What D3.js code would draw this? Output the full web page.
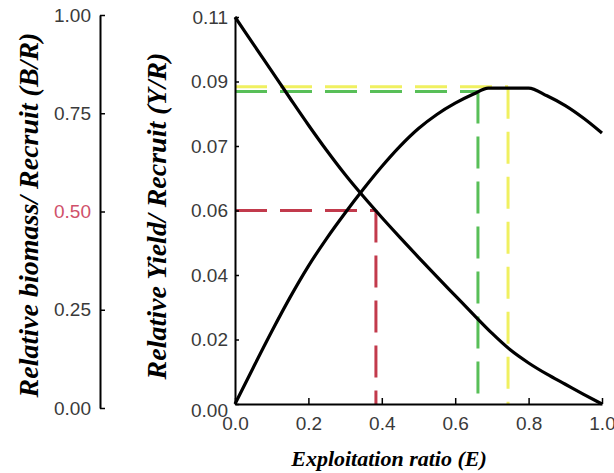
<!DOCTYPE html>
<html>
<head>
<meta charset="utf-8">
<script src="https://cdn.jsdelivr.net/npm/d3@7"></script>
<style>
  html, body { margin: 0; padding: 0; background: #fff; }
  svg { display: block; }
  .tick text { font-family: "Liberation Sans", Arial, sans-serif; font-size: 19px; fill: #3a3a3a; }
  .title { font-family: "Liberation Serif", "Times New Roman", serif; font-weight: bold; font-style: italic; fill: #000; }
</style>
</head>
<body>
<svg id="chart" width="614" height="473"></svg>
<script>
// Exploitation ratio (E) sample points for the yield curve
const exploitation = [0, 0.05, 0.10, 0.15, 0.20, 0.25, 0.30, 0.35, 0.40, 0.45, 0.50,
                      0.55, 0.60, 0.65, 0.69, 0.80, 0.85, 0.90, 0.95, 1.00];
// Relative yield per recruit (Y/R)
const yieldPerRecruit = [0, 0.0104, 0.0206, 0.0303, 0.0392, 0.0471, 0.0543, 0.0611, 0.0675, 0.0733, 0.0783,
                         0.0823, 0.0855, 0.0881, 0.0898, 0.0898, 0.0876, 0.0848, 0.0812, 0.0770];
// Relative biomass per recruit (B/R)
const biomassE = [0, 0.05, 0.10, 0.15, 0.20, 0.25, 0.30, 0.35, 0.40, 0.45, 0.50,
                  0.55, 0.60, 0.65, 0.70, 0.75, 0.80, 0.85, 0.90, 0.95, 1.00];
const biomassPerRecruit = [1.000, 0.930, 0.860, 0.790, 0.721, 0.655, 0.593, 0.536, 0.482, 0.430, 0.379,
                           0.329, 0.280, 0.231, 0.183, 0.140, 0.106, 0.077, 0.051, 0.025, 0.000];

// Reference points: E50 (B/R = 0.5), E0.1 and Emax
const refNames = ["E50", "E0.1", "Emax"];
const refE = [0.384, 0.662, 0.744];
const refYR = [0.055, 0.0888, 0.0902];
const refColors = ["#c23a4c", "#58bf58", "#f0f060"];

// Tick labels
const xTickValues = [0, 0.2, 0.4, 0.6, 0.8, 1.0];
const yTickLabels = ["0.00", "0.02", "0.04", "0.06", "0.07", "0.09", "0.11"];
const bTickValues = [0, 0.25, 0.5, 0.75, 1.0];
const bTickLabels = ["0.00", "0.25", "0.50", "0.75", "1.00"];
const bHighlight = "0.50";

const yMax = 0.11;
const svg = d3.select("#chart");

const x = d3.scaleLinear().domain([0, 1]).range([235, 602]);
const y = d3.scaleLinear().domain([0, yMax]).range([404, 17]);
const bPlot = d3.scaleLinear().domain([0, 1]).range([404, 17]);
const bAxisScale = d3.scaleLinear().domain([0, 1]).range([408, 15]);

// Reference dashed guides
const dash = "32,13";
const order = [2, 1, 0];
order.forEach(i => {
  const yy = y(refYR[i]);
  svg.append("line")
    .attr("x1", x(0)).attr("x2", x(refE[i]))
    .attr("y1", yy).attr("y2", yy)
    .attr("stroke", refColors[i]).attr("stroke-width", 3)
    .attr("stroke-dasharray", dash);
  svg.append("line")
    .attr("x1", x(refE[i])).attr("x2", x(refE[i]))
    .attr("y1", yy).attr("y2", y(0))
    .attr("stroke", refColors[i]).attr("stroke-width", 3)
    .attr("stroke-dasharray", dash);
});

// Curves
const yrLine = d3.line()
  .x((d, i) => x(exploitation[i]))
  .y(d => y(d))
  .curve(d3.curveMonotoneX);
svg.append("path")
  .attr("d", yrLine(yieldPerRecruit))
  .attr("fill", "none").attr("stroke", "#000").attr("stroke-width", 3.2)
  .attr("stroke-linejoin", "round");

const brLine = d3.line()
  .x((d, i) => x(biomassE[i]))
  .y(d => bPlot(d))
  .curve(d3.curveMonotoneX);
svg.append("path")
  .attr("d", brLine(biomassPerRecruit))
  .attr("fill", "none").attr("stroke", "#000").attr("stroke-width", 3.2)
  .attr("stroke-linejoin", "round");

// Axes
function styleAxis(g) {
  g.select(".domain").attr("stroke", "#000").attr("stroke-width", 2);
  g.selectAll(".tick line").attr("stroke", "#000").attr("stroke-width", 1.5);
}

svg.append("g")
  .attr("transform", `translate(0,${y(0)})`)
  .call(d3.axisBottom(x).tickValues(xTickValues).tickFormat(d3.format(".1f"))
        .tickSize(-6).tickSizeOuter(0).tickPadding(13))
  .call(styleAxis);

const yTickValues = yTickLabels.map((_, i) => i * yMax / (yTickLabels.length - 1));
const yAxis = svg.append("g")
  .attr("transform", `translate(${x(0)},0)`)
  .call(d3.axisLeft(y).tickValues(yTickValues).tickFormat((d, i) => yTickLabels[i])
        .tickSize(-4).tickSizeOuter(0).tickPadding(7))
  .call(styleAxis);
yAxis.selectAll(".tick").filter((d, i) => i === 0).select("text").attr("dy", "0.65em");

const bAxis = svg.append("g")
  .attr("transform", "translate(100,0)")
  .call(d3.axisLeft(bAxisScale).tickValues(bTickValues).tickFormat((d, i) => bTickLabels[i])
        .tickSize(-5).tickSizeOuter(0).tickPadding(9))
  .call(styleAxis);
bAxis.selectAll(".tick text").filter(function () { return this.textContent === bHighlight; })
  .style("fill", "#d0506a");

// Titles
svg.append("text").attr("class", "title")
  .attr("transform", "translate(38,215) rotate(-90)")
  .attr("text-anchor", "middle").style("font-size", "28px")
  .text("Relative biomass/ Recruit (B/R)");

svg.append("text").attr("class", "title")
  .attr("transform", "translate(166,216) rotate(-90)")
  .attr("text-anchor", "middle").style("font-size", "28px")
  .text("Relative Yield/ Recruit (Y/R)");

svg.append("text").attr("class", "title")
  .attr("x", 389).attr("y", 466)
  .attr("text-anchor", "middle").style("font-size", "22px")
  .text("Exploitation ratio (E)");
</script>
</body>
</html>
